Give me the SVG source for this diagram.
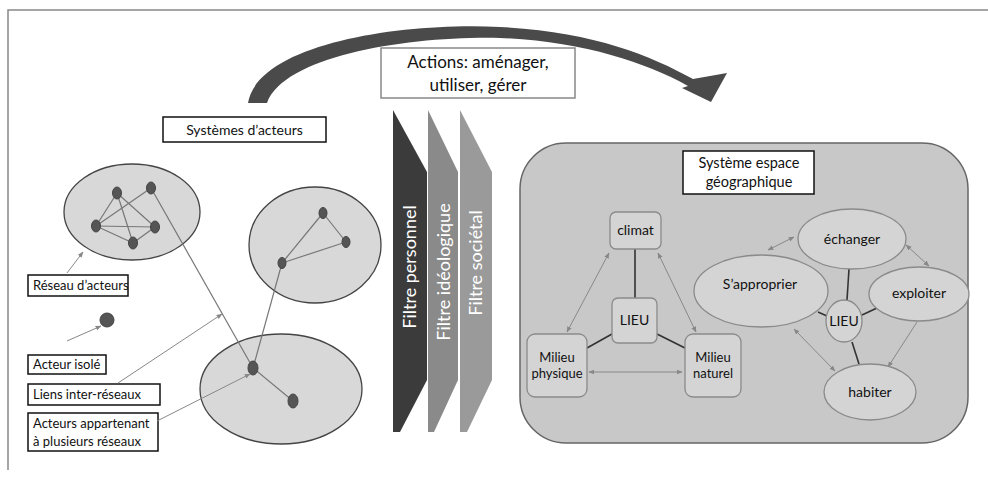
<svg xmlns="http://www.w3.org/2000/svg" width="988" height="481" viewBox="0 0 988 481">
<defs>
<style>
text{font-family:Lato,"Open Sans","Liberation Sans",sans-serif;fill:#111;}
.lbl{font-size:13px;}
.box{fill:#fff;stroke:#111;stroke-width:1.5;}
.net{fill:#d8d8d8;stroke:#444;stroke-width:1.3;}
.actor{fill:#555;stroke:#444;stroke-width:1;}
.edge{stroke:#777;stroke-width:1.2;fill:none;}
.pointer{stroke:#888;stroke-width:1;fill:none;marker-end:url(#ah);}
.dbl{stroke:#888;stroke-width:1;fill:none;marker-start:url(#ahs);marker-end:url(#ah);}
.sgl{stroke:#888;stroke-width:1;fill:none;marker-end:url(#ah);}
.solid{stroke:#333;stroke-width:1.6;fill:none;}
.node{fill:#d4d4d4;stroke:#8a8a8a;stroke-width:1.3;}
.ntext{font-size:14px;text-anchor:middle;}
.ntext2{font-size:13px;text-anchor:middle;}
.ftext{font-size:18px;fill:#fff;text-anchor:middle;}
</style>
<marker id="ah" viewBox="0 0 10 10" refX="9" refY="5" markerWidth="6" markerHeight="6" orient="auto"><path d="M0,1 L10,5 L0,9 z" fill="#888"/></marker>
<marker id="ahs" viewBox="0 0 10 10" refX="1" refY="5" markerWidth="6" markerHeight="6" orient="auto"><path d="M10,1 L0,5 L10,9 z" fill="#888"/></marker>
</defs>
<rect width="988" height="481" fill="#fff"/>
<path d="M8 470 V10 H988" fill="none" stroke="#888" stroke-width="1.5"/>

<g id="big-arrow">
<path d="M248 103 C258 44 400 22 500 27 C590 31 650 55 693 79 L727 73 L711 102 L682 88 L688 86 C645 62 580 41 500 38 C410 36 285 55 267 103 Z" fill="#4a4a4a"/>
</g>

<g id="actions">
<rect x="381" y="48" width="194" height="50" fill="#fff" stroke="#888" stroke-width="1.5"/>
<text x="478" y="68" font-size="17" text-anchor="middle">Actions: aménager,</text>
<text x="478" y="91" font-size="17" text-anchor="middle">utiliser, gérer</text>
</g>

<g id="systemes-acteurs">
<rect class="box" x="163" y="117" width="163" height="25"/>
<text x="244.5" y="134.5" font-size="14" text-anchor="middle">Systèmes d’acteurs</text>
</g>

<g id="filtre-personnel">
<polygon points="393,110 427,172 427,380 400,432 393,432" fill="#3b3b3b"/>
<text class="ftext" transform="translate(416,267) rotate(-90)">Filtre personnel</text>
</g>
<g id="filtre-ideologique">
<polygon points="428,110 458,172 458,380 434,432 428,432" fill="#8a8a8a"/>
<text class="ftext" transform="translate(450,272) rotate(-90)">Filtre idéologique</text>
</g>
<g id="filtre-societal">
<polygon points="460,110 492,172 492,380 467,432 460,432" fill="#9a9a9a"/>
<text class="ftext" transform="translate(482,263) rotate(-90)">Filtre sociétal</text>
</g>

<g id="reseau-1">
<ellipse class="net" cx="132" cy="212" rx="68" ry="48"/>
</g>
<g id="reseau-2">
<ellipse class="net" cx="315" cy="245" rx="66" ry="58"/>
</g>
<g id="reseau-3">
<ellipse class="net" cx="281" cy="389" rx="81" ry="55"/>
</g>

<g id="network-edges">
<line class="edge" x1="117" y1="193" x2="96" y2="226"/>
<line class="edge" x1="117" y1="193" x2="155" y2="227"/>
<line class="edge" x1="117" y1="193" x2="133" y2="243"/>
<line class="edge" x1="151" y1="188" x2="96" y2="226"/>
<line class="edge" x1="96" y1="226" x2="155" y2="227"/>
<line class="edge" x1="96" y1="226" x2="133" y2="243"/>
<line class="edge" x1="155" y1="227" x2="133" y2="243"/>
<line class="edge" x1="323" y1="213" x2="346" y2="242"/>
<line class="edge" x1="282" y1="263" x2="323" y2="213"/>
<line class="edge" x1="282" y1="263" x2="346" y2="242"/>
<line class="edge" x1="151" y1="188" x2="253" y2="368"/>
<line class="edge" x1="282" y1="263" x2="253" y2="368"/>
<line class="edge" x1="253" y1="368" x2="293" y2="401"/>
</g>

<g id="actors">
<ellipse class="actor" cx="117" cy="193" rx="4.5" ry="6"/>
<ellipse class="actor" cx="151" cy="188" rx="4.5" ry="6"/>
<ellipse class="actor" cx="96" cy="226" rx="4.5" ry="6"/>
<ellipse class="actor" cx="155" cy="227" rx="4.5" ry="6"/>
<ellipse class="actor" cx="133" cy="243" rx="4.5" ry="6"/>
<ellipse class="actor" cx="323" cy="213" rx="4" ry="5.5"/>
<ellipse class="actor" cx="346" cy="242" rx="4" ry="5.5"/>
<ellipse class="actor" cx="282" cy="263" rx="4" ry="5.5"/>
<ellipse class="actor" cx="253" cy="368" rx="5" ry="7"/>
<ellipse class="actor" cx="293" cy="401" rx="5" ry="7"/>
</g>

<g id="acteur-isole-dot">
<circle class="actor" cx="107" cy="320" r="7"/>
</g>

<g id="legend-reseau">
<rect class="box" x="28" y="275" width="100" height="21"/>
<text class="lbl" x="33" y="290">Réseau d’acteurs</text>
</g>
<g id="legend-isole">
<rect class="box" x="28" y="355" width="78" height="19"/>
<text class="lbl" x="33" y="369">Acteur isolé</text>
</g>
<g id="legend-liens">
<rect class="box" x="28" y="384" width="132" height="21"/>
<text class="lbl" x="33" y="399">Liens inter-réseaux</text>
</g>
<g id="legend-appartenant">
<rect class="box" x="28" y="413" width="130" height="38"/>
<text class="lbl" x="33" y="428">Acteurs appartenant</text>
<text class="lbl" x="33" y="446">à plusieurs réseaux</text>
</g>

<g id="legend-pointers">
<line class="pointer" x1="67" y1="273" x2="83" y2="252"/>
<line class="pointer" x1="67" y1="341" x2="101" y2="326"/>
<line class="pointer" x1="118" y1="383" x2="222" y2="314"/>
<line class="pointer" x1="157" y1="421" x2="250" y2="374"/>
</g>

<g id="systeme-espace">
<rect x="520" y="143" width="448" height="300" rx="46" ry="46" fill="#c8c8c8" stroke="#666" stroke-width="1.5"/>
<rect class="box" x="683" y="151" width="131" height="43"/>
<text x="749" y="168" font-size="14.5" text-anchor="middle">Système espace</text>
<text x="749" y="187" font-size="14.5" text-anchor="middle">géographique</text>
</g>

<g id="connectors">
<line class="solid" x1="635" y1="249" x2="635" y2="298"/>
<line class="solid" x1="612" y1="334" x2="587" y2="348"/>
<line class="solid" x1="657" y1="334" x2="685" y2="348"/>
<line class="dbl" x1="609" y1="253" x2="567" y2="332"/>
<line class="dbl" x1="658" y1="253" x2="696" y2="332"/>
<line class="dbl" x1="589" y1="372" x2="682" y2="372"/>
<line class="solid" x1="849" y1="269" x2="847" y2="300"/>
<line class="solid" x1="818" y1="312" x2="827" y2="316"/>
<line class="solid" x1="877" y1="308" x2="862" y2="315"/>
<line class="solid" x1="852" y1="342" x2="859" y2="364"/>
<line class="dbl" x1="768" y1="250" x2="794" y2="237"/>
<line class="dbl" x1="906" y1="245" x2="929" y2="266"/>
<line class="sgl" x1="917" y1="322" x2="888" y2="367"/>
<line class="dbl" x1="794" y1="329" x2="835" y2="371"/>
</g>

<g id="climat">
<rect class="node" x="610" y="212" width="51" height="37" rx="6"/>
<text class="ntext" x="635.5" y="235">climat</text>
</g>
<g id="lieu-1">
<rect class="node" x="612" y="298" width="45" height="45" rx="6"/>
<text class="ntext" x="634.5" y="325">LIEU</text>
</g>
<g id="milieu-physique">
<rect class="node" x="527" y="334" width="60" height="63" rx="8"/>
<text class="ntext2" x="557" y="362">Milieu</text>
<text class="ntext2" x="557" y="378">physique</text>
</g>
<g id="milieu-naturel">
<rect class="node" x="685" y="334" width="56" height="63" rx="8"/>
<text class="ntext2" x="713" y="362">Milieu</text>
<text class="ntext2" x="713" y="378">naturel</text>
</g>

<g id="echanger">
<ellipse class="node" cx="852" cy="239" rx="54" ry="30"/>
<text class="ntext" x="852" y="244">échanger</text>
</g>
<g id="sapproprier">
<ellipse class="node" cx="761" cy="291" rx="67" ry="36"/>
<text class="ntext" x="760" y="289">S’approprier</text>
</g>
<g id="exploiter">
<ellipse class="node" cx="919" cy="294" rx="50" ry="27"/>
<text class="ntext" x="919" y="298">exploiter</text>
</g>
<g id="lieu-2">
<ellipse class="node" cx="844" cy="321" rx="18" ry="21"/>
<text class="ntext" x="844" y="326">LIEU</text>
</g>
<g id="habiter">
<ellipse class="node" cx="870" cy="392" rx="46" ry="28"/>
<text class="ntext" x="870" y="397">habiter</text>
</g>
</svg>
